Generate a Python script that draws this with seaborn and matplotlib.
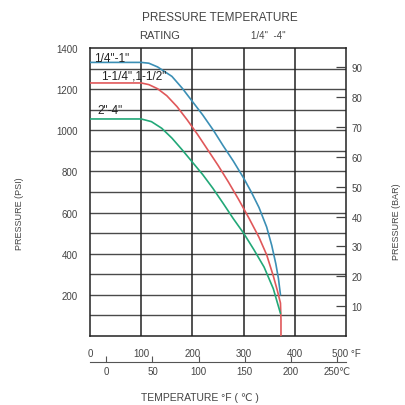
import pandas as pd
import numpy as np
import matplotlib
matplotlib.use("Agg")
import matplotlib.pyplot as plt
import seaborn as sns

# curve data: temperature (F) vs pressure (psi)
temp_small = [0, 100, 115, 132, 160, 180, 200, 220, 241, 260, 280, 300, 315, 330, 345, 355, 363, 368, 372]
psi_small = [1330, 1330, 1326, 1308, 1262, 1205, 1140, 1075, 1000, 925, 850, 768, 700, 625, 530, 440, 350, 280, 200]

temp_mid = [0, 100, 115, 132, 150, 170, 190, 210, 230, 250, 270, 290, 310, 330, 345, 358, 366, 372, 373, 373]
psi_mid = [1230, 1230, 1222, 1202, 1168, 1115, 1050, 980, 905, 830, 750, 665, 575, 480, 395, 292, 220, 160, 80, 0]

temp_big = [0, 100, 120, 140, 160, 180, 200, 220, 240, 260, 280, 300, 320, 340, 358, 372]
psi_big = [1055, 1055, 1042, 1010, 962, 905, 845, 785, 718, 645, 570, 500, 420, 335, 230, 110]

sizes = ['1/4"-1"', '1-1/4",1-1/2"', '2"-4"']
colors = ["#3b8fb5", "#e0585a", "#22a878"]

f_ticks = [0, 100, 200, 300, 400, 500]
f_labels = ["0", "100", "200", "300", "400", "500 °F"]
c_ticks = [0, 50, 100, 150, 200, 250]
c_labels = ["0", "50", "100", "150", "200", "250℃"]
psi_ticks = [200, 400, 600, 800, 1000, 1200, 1400]
bar_ticks = [10, 20, 30, 40, 50, 60, 70, 80, 90]

df = pd.concat([
    pd.DataFrame({"temp": temp_small, "psi": psi_small, "size": sizes[0]}),
    pd.DataFrame({"temp": temp_mid, "psi": psi_mid, "size": sizes[1]}),
    pd.DataFrame({"temp": temp_big, "psi": psi_big, "size": sizes[2]}),
])

sns.set_style("white")
plt.rcParams["font.family"] = ["Liberation Sans", "DejaVu Sans"]

fig = plt.figure(figsize=(4.06, 4.06), dpi=100)
ax = fig.add_axes([90/406, 69/406, 256/406, 288/406])

# grid
for y in range(100, 1400, 100):
    ax.axhline(y, color="#4a4a4a", lw=1.0, zorder=1)
for x in [100, 200, 300, 400]:
    ax.axvline(x, color="#222222", lw=1.1, zorder=1)

sns.lineplot(data=df, x="temp", y="psi", hue="size", palette=colors,
             sort=False, estimator=None, lw=1.2, legend=False, ax=ax, zorder=3)
for ln in ax.get_lines():
    ln.set_solid_joinstyle("round")

ax.set_xlim(0, 500)
ax.set_ylim(0, 1400)
for s in ax.spines.values():
    s.set_color("#222222")
    s.set_linewidth(1.1)

ax.set_xticks(f_ticks)
ax.set_xticklabels(f_labels)
ax.set_yticks(psi_ticks)
ax.tick_params(axis="x", length=0, pad=9, labelsize=7, labelcolor="#444444")
ax.tick_params(axis="y", length=0, pad=9, labelsize=7, labelcolor="#444444")
ax.set_xlabel("")
ax.set_ylabel("")

# right bar axis
ax2 = ax.twinx()
ax2.set_ylim(0, 1400 / 14.5038)
ax2.set_yticks(bar_ticks)
ax2.tick_params(axis="y", direction="in", length=7, width=0.9, color="#444444",
                pad=4, labelsize=7, labelcolor="#444444")
for s in ax2.spines.values():
    s.set_visible(False)

# celsius axis below
secax = ax.secondary_xaxis(-0.09, functions=(lambda f: (f - 32) * 5 / 9,
                                              lambda c: c * 9 / 5 + 32))
secax.set_xticks(c_ticks)
secax.set_xticklabels(c_labels)
secax.set_xticks([-17.78], minor=True)
secax.tick_params(axis="x", which="both", direction="in", length=4, width=0.8,
                  color="#555555", pad=3, labelsize=7, labelcolor="#444444")
secax.spines["bottom"].set_color("#555555")
secax.spines["bottom"].set_linewidth(0.8)

# size labels
ax.text(8, 1352, sizes[0], fontsize=8.5, color="#222222", va="center", zorder=4)
ax.text(21, 1264, sizes[1], fontsize=8.5, color="#222222", va="center", zorder=4)
ax.text(14, 1100, sizes[2], fontsize=8.5, color="#222222", va="center", zorder=4)

# titles and axis labels
fig.text(220/406, 1 - 18/406, "PRESSURE TEMPERATURE", ha="center", va="center",
         fontsize=8.5, color="#444444")
fig.text(160/406, 1 - 36/406, "RATING", ha="center", va="center",
         fontsize=8, color="#444444")
fig.text(268/406, 1 - 36/406, '1/4"  -4"', ha="center", va="center",
         fontsize=7, color="#444444")
fig.text(200/406, 1 - 398/406, "TEMPERATURE °F ( ℃ )", ha="center", va="center",
         fontsize=7.5, color="#444444")
fig.text(20/406, 1 - 214/406, "PRESSURE (PSI)", ha="center", va="center",
         rotation=90, fontsize=6.5, color="#444444")
fig.text(397/406, 1 - 222/406, "PRESSURE (BAR)", ha="center", va="center",
         rotation=90, fontsize=6.5, color="#444444")

fig.savefig("out.png", dpi=100)
